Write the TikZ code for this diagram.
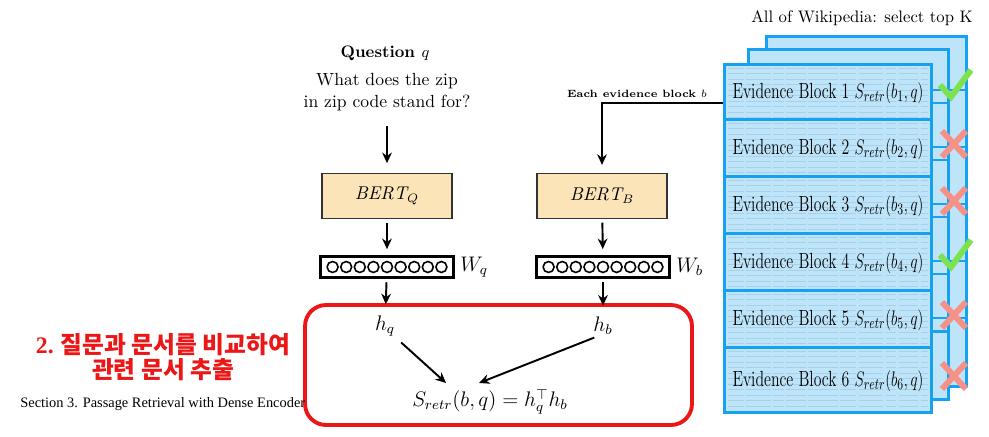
\documentclass[tikz,border=0pt]{standalone}
\usepackage{fontspec}
\newfontfamily\krfont{Noto Sans CJK KR}
\newfontfamily\timesfont{Liberation Serif}
\usetikzlibrary{arrows.meta,positioning,calc}
\definecolor{bertfill}{RGB}{251,228,184}
\definecolor{retrred}{RGB}{236,22,22}
\definecolor{blkfill}{RGB}{190,228,250}
\definecolor{blkedge}{RGB}{22,162,240}
\definecolor{okgreen}{RGB}{125,225,80}
\definecolor{nogood}{RGB}{245,145,135}
\tikzset{
  qhead/.style={font=\bfseries\fontsize{9.5}{11}\selectfont},
  qtext/.style={align=center,font=\fontsize{10}{12.5}\selectfont},
  bertbox/.style={rectangle,draw=black!80,fill=bertfill,thick,minimum width=2.6cm,minimum height=0.9cm,font=\fontsize{10.5}{13}\selectfont},
  vecbox/.style={rectangle,draw=black,line width=1.4pt,fill=white,minimum width=2.66cm,minimum height=0.42cm,inner sep=0pt},
  veccirc/.style={draw=black,line width=0.9pt},
  wlab/.style={font=\fontsize{12}{14}\selectfont,inner sep=1pt},
  cmpbox/.style={rectangle,draw=retrred,line width=2.2pt,rounded corners=0.42cm,minimum width=7.74cm,minimum height=2.4cm},
  hlab/.style={font=\fontsize{12}{14}\selectfont},
  pagebox/.style={rectangle,draw=blkedge,fill=blkfill,line width=1.7pt,anchor=north west,minimum width=4cm,minimum height=7cm},
  evblock/.style={rectangle,draw=blkedge,fill=blkfill,line width=1.7pt,anchor=north west,minimum width=4.14cm,inner sep=0pt,font=\fontsize{12.5}{14}\selectfont},
  fakeline/.style={draw=blkedge!30!gray,opacity=0.22,line width=0.5pt,dash pattern=on 9pt off 1.4pt on 14pt off 1.4pt on 6pt off 1.4pt on 11pt off 1.4pt on 17pt off 1.4pt},
  evlab/.style={font=\bfseries\fontsize{6}{7}\selectfont,inner sep=1pt},
  okmark/.style={draw=okgreen,line width=3.4pt},
  nomark/.style={draw=nogood,line width=3.4pt},
  arr/.style={-{Stealth[length=6pt,width=5.5pt]},line width=1.1pt,black}
}
\begin{document}
\begin{tikzpicture}[x=0.02cm,y=-0.02cm]
  \useasboundingbox[fill=white] (0,0) rectangle (989,436);

  \node[qhead] (qhead) at (385,53) {Question $q$};
  \node[qtext] (qtext) at (387,92) {What does the zip\\in zip code stand for?};
  \node[bertbox] (bertq) at (387,196) {$\mathit{BERT}_Q$};
  \node[bertbox] (bertb) at (602,196) {$\mathit{BERT}_B$};
  \node[vecbox] (wq) at (387,267) {};
  \node[vecbox] (wb) at (603,267) {};
  \foreach \v in {wq,wb}
    \foreach \k in {-4,...,4}
      \draw[veccirc] ($(\v)+(\k*13.6,0)$) circle[radius=0.11cm];
  \node[wlab,right=2pt of wq] (wqlab) {$W_q$};
  \node[wlab,right=2pt of wb] (wblab) {$W_b$};

  \node[cmpbox] (cmp) at (498.5,365) {};
  \node[hlab] (hq) at (385,326) {$h_q$};
  \node[hlab] (hb) at (603,326) {$h_b$};
  \node[hlab] (sret) at (490,402) {$S_{retr}(b,q) = h_q^{\top} h_b$};
  \coordinate (sin1) at (446,383);
  \coordinate (sin2) at (479,383);

  \draw[arr,shorten <=5pt,shorten >=5.5pt] (qtext) -- (bertq);
  \draw[arr,shorten <=2pt,shorten >=3.5pt] (bertq) -- (wq);
  \draw[arr,shorten <=2pt,shorten >=3.5pt] (bertb) -- (wb);
  \draw[arr,shorten <=2pt,shorten >=3pt] (wq) -- (hq);
  \draw[arr,shorten <=2pt,shorten >=3pt] (wb) -- (hb);
  \draw[arr] (hq.south east) -- (sin1);
  \draw[arr] ([xshift=4pt,yshift=2pt]hb.south west) -- (sin2);

  \node[text=retrred,align=center,font=\krfont\bfseries\fontsize{13.5}{13.8}\selectfont] (kortxt) at (163,357)
    {{\timesfont\bfseries 2.} 질문과 문서를 비교하여\\관련 문서 추출};
  \node[anchor=west,inner sep=0pt,font=\timesfont\fontsize{8.2}{10}\selectfont] (secref) at (20,404)
    {Section 3. Passage Retrieval with Dense Encoder};

  \node[font=\fontsize{9.5}{11}\selectfont] (wikihd) at (862,18) {All of Wikipedia: select top K};
  \node[pagebox] (pg3) at (765,35) {};
  \node[pagebox] (pg2) at (747,48) {};
  \foreach \dy in {55,112,169,226,283} {
    \draw[blkedge,line width=1.7pt] ($(pg3.north west)+(0,\dy)$) -- ($(pg3.north east)+(0,\dy)$);
    \draw[blkedge,line width=1.7pt] ($(pg2.north west)+(0,\dy)$) -- ($(pg2.north east)+(0,\dy)$);
  }
  \foreach \i/\ytop/\hgt in {1/63/55,2/118/57,3/175/57,4/232/57,5/289/57,6/346/65} {
    \node[evblock,minimum height=\hgt*0.02cm] (blk\i) at (723,\ytop) {};
    \foreach \dy in {5,10.5,...,\hgt}
      \draw[fakeline] ($(blk\i.north west)+(5,\dy)$) -- ($(blk\i.north east)+(-5,\dy)$);
    \node[evblock,draw=none,fill=none,anchor=center] (blktxt\i) at ($(blk\i.center)+(0,1)$)
      {\scalebox{0.72}[1]{Evidence Block \i\ $S_{retr}(b_{\i},q)$}};
  }
  \foreach \c in {1,4}
    \draw[okmark] ($(blk\c.east)+(7,-7)$) -- ++(11,12) -- ++(20,-27);
  \foreach \c in {2,3,5,6} {
    \draw[nomark] ($(blk\c.east)+(9,-17)$) -- ++(24,26);
    \draw[nomark] ($(blk\c.east)+(9,9)$) -- ++(24,-26);
  }

  \coordinate (ebin) at ($(blk1.south west)+(0,-18)$);
  \draw[arr,shorten >=4.5pt] (ebin) -| (bertb.north);
  \node[evlab,above left=0.07cm and 0.28cm of ebin] (eblab) {Each evidence block $b$};
\end{tikzpicture}
\end{document}
